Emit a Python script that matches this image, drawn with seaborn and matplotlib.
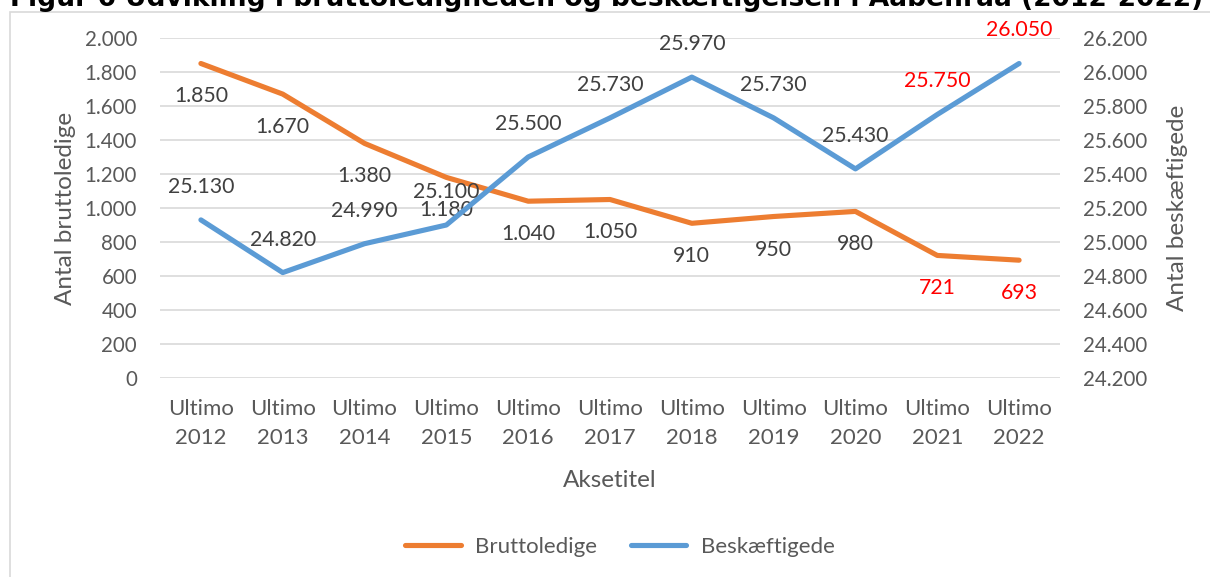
import matplotlib.pyplot as plt
import pandas as pd
import seaborn as sns
from matplotlib.patches import Rectangle

# data
years = ['2012', '2013', '2014', '2015', '2016', '2017', '2018', '2019', '2020', '2021', '2022']
bruttoledige = [1850, 1670, 1380, 1180, 1040, 1050, 910, 950, 980, 721, 693]
beskaeftigede = [25130, 24820, 24990, 25100, 25500, 25730, 25970, 25730, 25430, 25750, 26050]
red_labels = ['2021', '2022']

left_ticks = list(range(0, 2001, 200))
right_ticks = list(range(24200, 26201, 200))

df = pd.DataFrame({'year': years, 'Bruttoledige': bruttoledige, 'Beskæftigede': beskaeftigede})
df['pos'] = range(len(df))

sns.set_style('white')
plt.rcParams['font.family'] = ['Lato', 'DejaVu Sans']

ORANGE = '#ED7D31'
BLUE = '#5B9BD5'
GREY = '#595959'
LABEL = '#404040'


def fmt(v):
    return f'{v:,}'.replace(',', '.')


fig = plt.figure(figsize=(12.1, 5.77), dpi=100)
ax = fig.add_axes([160 / 1210, 1 - 378 / 577, 900 / 1210, 340 / 577])
ax2 = ax.twinx()

# outer chart frame
fig.patches.append(Rectangle((9.5 / 1210, -0.01), 1.02, 1 - 11.5 / 577 + 0.01, transform=fig.transFigure,
                             fill=False, edgecolor='#d9d9d9', linewidth=1.2))

# title is cut off at the top edge in the reference
fig.text(10 / 1210, 1 - 6.5 / 577, 'Figur 6 Udvikling i bruttoledigheden og beskæftigelsen i Aabenraa (2012-2022)',
         family='DejaVu Sans', weight='bold', fontsize=19.1, va='baseline', ha='left', color='black')

sns.lineplot(data=df, x='pos', y='Bruttoledige', ax=ax, color=ORANGE, linewidth=3.7,
             label='Bruttoledige', legend=False)
sns.lineplot(data=df, x='pos', y='Beskæftigede', ax=ax2, color=BLUE, linewidth=3.7,
             label='Beskæftigede', legend=False)

ax.set_xlim(-0.5, len(years) - 0.5)
ax.set_ylim(0, 2000)
ax2.set_ylim(24200, 26200)
ax.set_yticks(left_ticks)
ax.set_yticklabels([fmt(v) for v in left_ticks])
ax2.set_yticks(right_ticks)
ax2.set_yticklabels([fmt(v) for v in right_ticks])
ax.set_xticks(df['pos'])
ax.set_xticklabels(['Ultimo\n' + y for y in years], linespacing=1.55)

ax.grid(axis='y', color='#d9d9d9', linewidth=1.2)
ax.set_axisbelow(True)
for a in (ax, ax2):
    for s in a.spines.values():
        s.set_visible(False)
    a.tick_params(length=0, labelsize=14.8, colors=GREY, pad=16.5)
ax.tick_params(axis='x', labelsize=16, pad=15)
ax2.grid(False)

ax.set_xlabel('Aksetitel', fontsize=17.5, color=GREY, labelpad=16)
ax.set_ylabel('Antal bruttoledige', fontsize=17.5, color=GREY, labelpad=6)
ax2.set_ylabel('Antal beskæftigede', fontsize=17.5, color=GREY, labelpad=14)

# data labels
for p, y, v in zip(df['pos'], years, bruttoledige):
    c = 'red' if y in red_labels else LABEL
    ax.annotate(fmt(v), (p, v), xytext=(0, -33), textcoords='offset pixels',
                ha='center', va='center', fontsize=15.3, color=c, zorder=5)
for p, y, v in zip(df['pos'], years, beskaeftigede):
    c = 'red' if y in red_labels else LABEL
    ax2.annotate(fmt(v), (p, v), xytext=(0, 33), textcoords='offset pixels',
                 ha='center', va='center', fontsize=15.3, color=c, zorder=5)

h1, l1 = ax.get_legend_handles_labels()
h2, l2 = ax2.get_legend_handles_labels()
fig.legend(h1 + h2, l1 + l2, loc='center', bbox_to_anchor=(620 / 1210, 1 - 547 / 577), ncol=2,
           frameon=False, fontsize=16, labelcolor=GREY, handlelength=2.5, handletextpad=0.65,
           columnspacing=1.5)

fig.savefig('out.png', dpi=100)
